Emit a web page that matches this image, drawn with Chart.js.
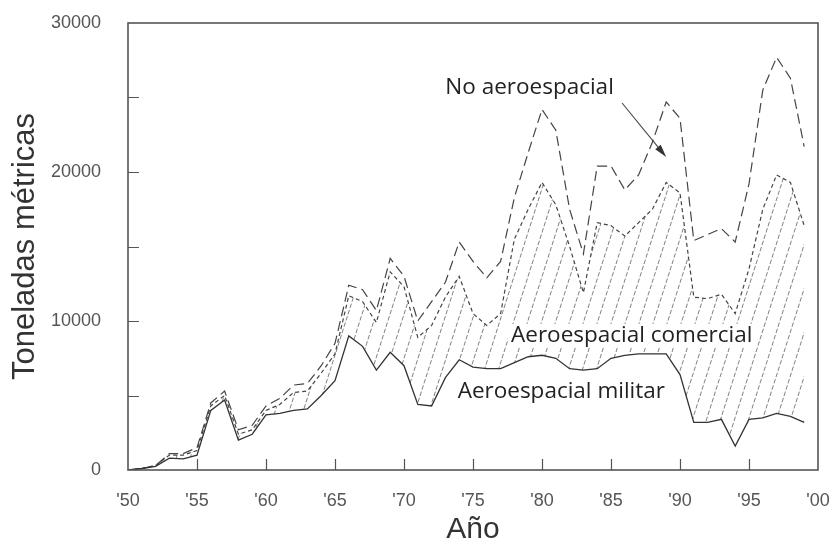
<!DOCTYPE html>
<html>
<head>
<meta charset="utf-8">
<script src="https://cdn.jsdelivr.net/npm/chart.js@4/dist/chart.umd.min.js"></script>
<style>
  html, body { margin: 0; padding: 0; background: #fff; }
  #wrap { width: 835px; height: 542px; }
</style>
</head>
<body>
<div id="wrap"><canvas id="c" width="835" height="542"></canvas></div>
<script>
// Años de la serie
const years = [1950, 1951, 1952, 1953, 1954, 1955, 1956, 1957, 1958, 1959,
               1960, 1961, 1962, 1963, 1964, 1965, 1966, 1967, 1968, 1969,
               1970, 1971, 1972, 1973, 1974, 1975, 1976, 1977, 1978, 1979,
               1980, 1981, 1982, 1983, 1984, 1985, 1986, 1987, 1988, 1989,
               1990, 1991, 1992, 1993, 1994, 1995, 1996, 1997, 1998, 1999];

// Consumo aeroespacial militar (t)
const aeroMilitar = [0, 100, 250, 800, 750, 1000, 4000, 4700, 2000, 2400,
                     3700, 3800, 4000, 4100, 5000, 6000, 9000, 8300, 6700, 7900,
                     7000, 4400, 4300, 6200, 7400, 6900, 6800, 6800, 7200, 7600,
                     7700, 7500, 6800, 6700, 6800, 7500, 7700, 7800, 7800, 7800,
                     6400, 3200, 3200, 3400, 1600, 3400, 3500, 3800, 3600, 3200];

// Militar + comercial acumulado (t)
const aeroTotal = [0, 100, 300, 1000, 1000, 1300, 4300, 5000, 2400, 2700,
                   4000, 4400, 5200, 5300, 6500, 7800, 11700, 11300, 9900, 13300,
                   12300, 8900, 9700, 11600, 13000, 10500, 9700, 10500, 15500, 17500,
                   19300, 17800, 15000, 11900, 16600, 16400, 15700, 16600, 17500, 19300,
                   18600, 11600, 11500, 11800, 10500, 13500, 17500, 19800, 19300, 16400];

// Total incluyendo usos no aeroespaciales (t)
const consumoTotal = [0, 100, 300, 1100, 1100, 1500, 4500, 5300, 2700, 3000,
                      4300, 4800, 5700, 5800, 7000, 8500, 12400, 12100, 10700, 14200,
                      13000, 10000, 11300, 12600, 15300, 14000, 12900, 14000, 18300, 21300,
                      24200, 22800, 17500, 14500, 20400, 20400, 18800, 19800, 22000, 24700,
                      23600, 15400, 15800, 16200, 15300, 19200, 25500, 27700, 26300, 21700];

const yTickStep = 5000;
const xTickStep = 5;

const TICK_FONT = { family: '"Liberation Sans", Arial, sans-serif', size: 18 };
const TITLE_FONT = { family: '"Liberation Sans", Arial, sans-serif', size: 30 };
const NOTE_FONT = '22.5px "Open Sans", sans-serif';

function toPoints(arr) { return years.map((yr, i) => ({ x: yr, y: arr[i] })); }

// Rayado diagonal discontinuo para la franja comercial
function hatchPattern() {
  const w = 14, h = 44;
  const cv = document.createElement('canvas');
  cv.width = w; cv.height = h;
  const g = cv.getContext('2d');
  g.strokeStyle = '#808080';
  g.lineWidth = 1;
  g.setLineDash([4.6, 2]);
  for (const dx of [-w, 0, w]) {
    g.beginPath();
    g.moveTo(dx, h);
    g.lineTo(dx + w, 0);
    g.stroke();
  }
  return g.createPattern(cv, 'repeat');
}

const overlay = {
  id: 'overlay',
  afterDatasetsDraw(chart) {
    const { ctx, chartArea: a, scales: { x, y } } = chart;
    ctx.save();

    // marco del área de trazado
    ctx.strokeStyle = '#555';
    ctx.lineWidth = 1.6;
    ctx.strokeRect(a.left, a.top, a.right - a.left, a.bottom - a.top);

    // marcas hacia dentro
    ctx.lineWidth = 1.2;
    ctx.beginPath();
    y.ticks.forEach(t => {
      if (t.value <= y.min || t.value >= y.max) return;
      const py = Math.round(y.getPixelForValue(t.value)) + 0.5;
      ctx.moveTo(a.left, py); ctx.lineTo(a.left + 11, py);
    });
    x.ticks.forEach(t => {
      if (t.value <= x.min || t.value >= x.max) return;
      const px = Math.round(x.getPixelForValue(t.value)) + 0.5;
      ctx.moveTo(px, a.bottom); ctx.lineTo(px, a.bottom - 11);
    });
    ctx.stroke();

    // rótulos de las series
    ctx.font = NOTE_FONT;
    ctx.textAlign = 'center';
    ctx.textBaseline = 'middle';

    const cx = x.getPixelForValue(1986.5), cy = y.getPixelForValue(9000);
    const tw = ctx.measureText('Aeroespacial comercial').width;
    ctx.fillStyle = '#fff';
    ctx.fillRect(cx - tw / 2 - 3, cy - 12, tw + 6, 24);

    ctx.fillStyle = '#222';
    ctx.fillText('Aeroespacial comercial', cx, cy);
    ctx.fillText('Aeroespacial militar', x.getPixelForValue(1981.4), y.getPixelForValue(5230));
    ctx.fillText('No aeroespacial', x.getPixelForValue(1979.1), y.getPixelForValue(25640));

    // flecha hacia la curva superior
    const x0 = x.getPixelForValue(1985.8), y0 = y.getPixelForValue(24630);
    const x1 = x.getPixelForValue(1989.0), y1 = y.getPixelForValue(21000);
    const ang = Math.atan2(y1 - y0, x1 - x0);
    ctx.strokeStyle = '#444';
    ctx.lineWidth = 1.1;
    ctx.beginPath(); ctx.moveTo(x0, y0); ctx.lineTo(x1 - 8 * Math.cos(ang), y1 - 8 * Math.sin(ang)); ctx.stroke();
    ctx.fillStyle = '#333';
    ctx.beginPath();
    ctx.moveTo(x1, y1);
    ctx.lineTo(x1 - 13 * Math.cos(ang) + 3.5 * Math.sin(ang), y1 - 13 * Math.sin(ang) - 3.5 * Math.cos(ang));
    ctx.lineTo(x1 - 13 * Math.cos(ang) - 3.5 * Math.sin(ang), y1 - 13 * Math.sin(ang) + 3.5 * Math.cos(ang));
    ctx.closePath(); ctx.fill();

    ctx.restore();
  }
};

new Chart(document.getElementById('c'), {
  type: 'line',
  data: {
    datasets: [
      {
        label: 'Aeroespacial militar',
        data: toPoints(aeroMilitar),
        borderColor: '#333',
        borderWidth: 1.3,
        pointRadius: 0,
        fill: false,
        tension: 0
      },
      {
        label: 'Aeroespacial comercial',
        data: toPoints(aeroTotal),
        borderColor: '#444',
        borderWidth: 1.2,
        borderDash: [4, 3],
        pointRadius: 0,
        fill: '-1',
        backgroundColor: hatchPattern(),
        tension: 0
      },
      {
        label: 'No aeroespacial',
        data: toPoints(consumoTotal),
        borderColor: '#444',
        borderWidth: 1.2,
        borderDash: [10, 5],
        pointRadius: 0,
        fill: false,
        tension: 0
      }
    ]
  },
  options: {
    responsive: false,
    animation: false,
    devicePixelRatio: 1,
    layout: { padding: { top: 23, right: 17, left: 0, bottom: 0 } },
    plugins: { legend: { display: false }, tooltip: { enabled: false } },
    scales: {
      x: {
        type: 'linear',
        min: 1950,
        max: 2000,
        grid: { display: false, drawTicks: false },
        border: { display: false },
        ticks: {
          stepSize: xTickStep,
          font: TICK_FONT,
          color: '#555',
          padding: 20,
          maxRotation: 0,
          callback: v => "'" + String(v).slice(2)
        },
        title: {
          display: true,
          text: 'Año',
          font: Object.assign({ lineHeight: 0.85 }, TITLE_FONT),
          color: '#333',
          padding: { top: 0, bottom: 0 }
        },
        afterFit: s => { s.height = 72; s.paddingLeft = 0; s.paddingRight = 0; }
      },
      y: {
        min: 0,
        max: 30000,
        grid: { display: false, drawTicks: false },
        border: { display: false },
        ticks: {
          stepSize: yTickStep,
          font: TICK_FONT,
          color: '#555',
          padding: 27,
          callback: v => (v % 10000 === 0 ? String(v) : '')
        },
        title: {
          display: true,
          text: 'Toneladas métricas',
          font: Object.assign({ lineHeight: 1 }, TITLE_FONT, { size: 31 }),
          color: '#333',
          padding: { top: 10, bottom: 0 }
        },
        afterFit: s => { s.width = 128; s.paddingTop = 0; s.paddingBottom = 0; }
      }
    }
  },
  plugins: [overlay]
});
</script>
</body>
</html>
